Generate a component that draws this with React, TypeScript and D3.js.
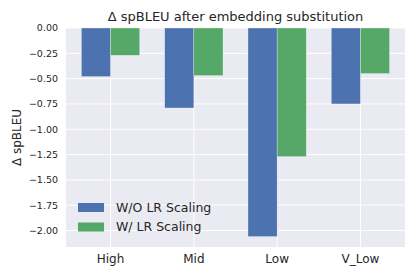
import React, { useEffect, useRef } from 'react';
import * as d3 from 'd3';

const categories = ['High', 'Mid', 'Low', 'V_Low'];
const seriesNames = ['W/O LR Scaling', 'W/ LR Scaling'];
const withoutScaling = [-0.48, -0.79, -2.06, -0.75];
const withScaling = [-0.27, -0.47, -1.27, -0.45];
const yTicks = [0, -0.25, -0.5, -0.75, -1.0, -1.25, -1.5, -1.75, -2.0];
const colors = ['#4c72b0', '#55a868'];

const W = 415;
const H = 277;
const margin = { top: 28, right: 10, bottom: 30, left: 66 };

export default function App() {
  const ref = useRef<SVGSVGElement>(null);

  useEffect(() => {
    const svg = d3.select(ref.current);
    svg.selectAll('*').remove();

    const font = 'DejaVu Sans, sans-serif';
    const barW = 0.35;
    const pad = (categories.length - 1 + 2 * barW) * 0.05;

    const x = d3.scaleLinear()
      .domain([-barW - pad, categories.length - 1 + barW + pad])
      .range([margin.left, W - margin.right]);

    const minVal = d3.min([...withoutScaling, ...withScaling]) as number;
    const y = d3.scaleLinear()
      .domain([minVal * 1.05, 0])
      .range([H - margin.bottom, margin.top]);

    // background
    svg.append('rect')
      .attr('x', margin.left)
      .attr('y', margin.top)
      .attr('width', W - margin.right - margin.left)
      .attr('height', H - margin.bottom - margin.top)
      .attr('fill', '#eaeaf2');

    // grid
    svg.selectAll('.hgrid')
      .data(yTicks)
      .enter()
      .append('line')
      .attr('x1', margin.left)
      .attr('x2', W - margin.right)
      .attr('y1', d => y(d))
      .attr('y2', d => y(d))
      .attr('stroke', 'white')
      .attr('stroke-width', 1);

    svg.selectAll('.vgrid')
      .data(categories)
      .enter()
      .append('line')
      .attr('x1', (d, i) => x(i))
      .attr('x2', (d, i) => x(i))
      .attr('y1', margin.top)
      .attr('y2', H - margin.bottom)
      .attr('stroke', 'white')
      .attr('stroke-width', 1);

    // bars
    const series = [withoutScaling, withScaling];
    series.forEach((vals, s) => {
      svg.selectAll(`.bar${s}`)
        .data(vals)
        .enter()
        .append('rect')
        .attr('x', (d, i) => x(i + (s === 0 ? -barW : 0)))
        .attr('y', y(0))
        .attr('width', x(barW) - x(0))
        .attr('height', d => y(d) - y(0))
        .attr('fill', colors[s])
        .attr('stroke', 'rgba(255,255,255,0.6)')
        .attr('stroke-width', 0.5);
    });

    // y ticks
    svg.selectAll('.ytick')
      .data(yTicks)
      .enter()
      .append('text')
      .attr('x', margin.left - 8)
      .attr('y', d => y(d))
      .attr('dy', '0.35em')
      .attr('text-anchor', 'end')
      .style('font-family', font)
      .style('font-size', '9.5px')
      .attr('fill', '#262626')
      .text(d => d3.format('.2f')(d).replace('-', '\u2212'));

    // x ticks
    svg.selectAll('.xtick')
      .data(categories)
      .enter()
      .append('text')
      .attr('x', (d, i) => x(i))
      .attr('y', H - margin.bottom + 16)
      .attr('text-anchor', 'middle')
      .style('font-family', font)
      .style('font-size', '12px')
      .attr('fill', '#262626')
      .text(d => d);

    // y label
    svg.append('text')
      .attr('transform', `translate(21,${(margin.top + H - margin.bottom) / 2}) rotate(-90)`)
      .attr('text-anchor', 'middle')
      .style('font-family', font)
      .style('font-size', '12px')
      .attr('fill', '#262626')
      .text('\u0394 spBLEU');

    // title
    svg.append('text')
      .attr('x', (margin.left + W - margin.right) / 2)
      .attr('y', 21)
      .attr('text-anchor', 'middle')
      .style('font-family', font)
      .style('font-size', '13px')
      .attr('fill', '#262626')
      .text('\u0394 spBLEU after embedding substitution');

    // legend
    const leg = svg.append('g').attr('transform', 'translate(78,203)');
    seriesNames.forEach((name, i) => {
      leg.append('rect')
        .attr('x', 0)
        .attr('y', i * 19.5)
        .attr('width', 26)
        .attr('height', 9)
        .attr('fill', colors[i]);
      leg.append('text')
        .attr('x', 38)
        .attr('y', i * 19.5 + 4.5)
        .attr('dy', '0.35em')
        .style('font-family', font)
        .style('font-size', '12.5px')
        .attr('fill', '#262626')
        .text(name);
    });
  }, []);

  return <svg ref={ref} width={W} height={H} style={{ position: 'absolute', left: 0, top: 0, background: 'white' }} />;
}
